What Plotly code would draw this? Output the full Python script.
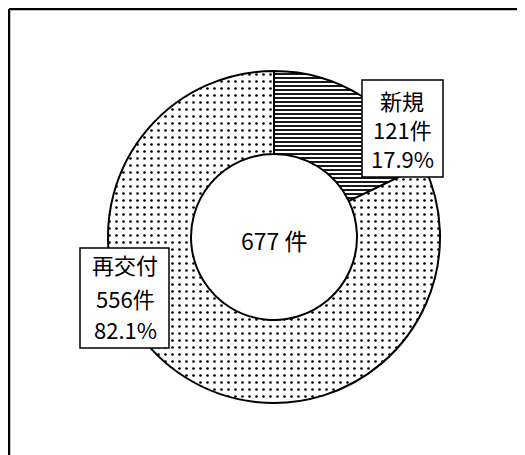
import plotly.graph_objects as go

categories = ["新規", "再交付"]
counts = [121, 556]
percents = ["17.9%", "82.1%"]
total_label = "677 件"

# the page body adds an 8px margin; work in window pixels and convert
OFF = 8
W, H = 525 - OFF, 455 - OFF

def px(x):
    return (x - OFF) / W

def py(y):
    return 1 - (y - OFF) / H

cx, cy, r = 274, 237, 166

fig = go.Figure(go.Pie(
    labels=categories,
    values=counts,
    sort=False,
    direction="clockwise",
    rotation=0,
    hole=0.5,
    textinfo="none",
    hoverinfo="label+value+percent",
    marker=dict(
        colors=["white", "white"],
        line=dict(color="black", width=2),
        pattern=dict(
            shape=["-", "."],
            fgcolor="black",
            bgcolor="white",
            size=[4, 7],
            solidity=[0.45, 0.12],
        ),
    ),
    domain=dict(x=[px(cx - r), px(cx + r)], y=[py(cy + r), py(cy - r)]),
    showlegend=False,
))

font = dict(family="Noto Sans CJK JP", size=22, color="black")

shapes = [
    # frame
    dict(type="line", xref="paper", yref="paper", x0=px(9), x1=1.02, y0=py(9), y1=py(9),
         line=dict(color="black", width=2.5)),
    dict(type="line", xref="paper", yref="paper", x0=px(9), x1=px(9), y0=py(9), y1=-0.02,
         line=dict(color="black", width=2.5)),
    # label boxes
    dict(type="rect", xref="paper", yref="paper", x0=px(362), x1=px(443), y0=py(177), y1=py(80),
         line=dict(color="black", width=1.5), fillcolor="white"),
    dict(type="rect", xref="paper", yref="paper", x0=px(80), x1=px(169), y0=py(348), y1=py(248),
         line=dict(color="black", width=1.5), fillcolor="white"),
]

annotations = []
label_specs = [
    (402, [100, 129, 158], 0),
    (125, [264, 298, 329], 1),
]
for xc, ys, i in label_specs:
    lines = [categories[i], f"{counts[i]}件", percents[i]]
    for yy, t in zip(ys, lines):
        annotations.append(dict(x=px(xc), y=py(yy), xref="paper", yref="paper", text=t,
                                showarrow=False, font=font, xanchor="center", yanchor="middle"))

annotations.append(dict(x=px(cx), y=py(240), xref="paper", yref="paper", text=total_label,
                        showarrow=False, font=dict(family="Noto Sans CJK JP", size=23, color="black"),
                        xanchor="center", yanchor="middle"))

fig.update_layout(
    width=W, height=H,
    margin=dict(l=0, r=0, t=0, b=0),
    paper_bgcolor="white",
    plot_bgcolor="white",
    shapes=shapes,
    annotations=annotations,
)

fig.write_html("out.html")
